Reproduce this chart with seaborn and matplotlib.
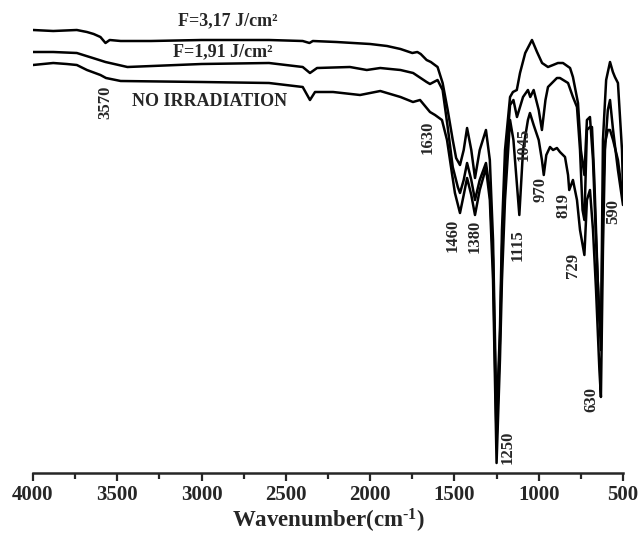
import matplotlib
matplotlib.use("Agg")
import matplotlib.pyplot as plt
import seaborn as sns
import pandas as pd

# ---- data (wavenumber, transmittance a.u.) ----
wn_f317 = [4000, 3880, 3740, 3680, 3640, 3600, 3570, 3545, 3480, 3300, 3000, 2600, 2400, 2360, 2340,
           2200, 2000, 1900, 1820, 1750, 1720, 1700, 1665, 1640, 1600, 1570, 1540, 1510, 1490, 1467,
           1445, 1425, 1400, 1378, 1350, 1313, 1290, 1271, 1250, 1230, 1218, 1200, 1170, 1153, 1130,
           1111, 1080, 1040, 1010, 980, 945, 915, 886, 856, 814, 797, 767, 750, 729, 714, 696, 678,
           660, 640, 630, 619, 600, 577, 560, 548, 530, 506, 500]
t_f317 = [94.0, 93.8, 94.0, 93.6, 93.2, 92.6, 91.4, 92.0, 91.8, 91.8, 92.0, 92.0, 91.8, 91.4, 91.8,
          91.6, 91.2, 90.8, 90.2, 89.4, 89.6, 89.2, 88.0, 87.6, 86.6, 83.4, 78.0, 72.0, 68.4, 67.0,
          70.0, 74.4, 70.0, 64.4, 70.0, 74.0, 68.0, 52.0, 16.0, 34.0, 54.0, 70.0, 80.6, 81.6, 82.0,
          85.4, 89.4, 92.0, 89.6, 87.4, 86.6, 87.0, 87.4, 87.4, 86.4, 84.6, 79.4, 70.0, 65.0, 76.0,
          76.6, 68.0, 52.0, 36.0, 34.0, 72.0, 84.0, 87.6, 85.6, 84.6, 83.4, 70.0, 62.0]

wn_f191 = [4000, 3880, 3740, 3645, 3570, 3440, 3000, 2600, 2400, 2357, 2315, 2120, 2020, 1940, 1820,
           1745, 1665, 1645, 1600, 1570, 1540, 1510, 1480, 1467, 1445, 1425, 1400, 1378, 1350, 1313,
           1290, 1271, 1250, 1230, 1218, 1200, 1170, 1150, 1129, 1093, 1064, 1050, 1030, 1000, 981,
           960, 945, 892, 874, 826, 797, 773, 755, 740, 729, 714, 696, 684, 670, 650, 631, 619, 607,
           590, 577, 559, 530, 500]
t_f191 = [89.6, 89.6, 89.4, 88.4, 87.6, 86.6, 87.2, 87.4, 86.6, 85.4, 86.4, 86.6, 86.0, 86.4, 86.0,
          85.4, 83.6, 83.2, 84.0, 82.0, 74.6, 66.6, 62.6, 61.4, 64.0, 67.4, 64.0, 60.0, 64.0, 67.4,
          62.0, 48.0, 12.0, 32.0, 50.0, 66.0, 79.0, 80.0, 76.6, 80.6, 82.0, 80.6, 82.0, 78.0, 74.0,
          80.0, 82.6, 84.4, 84.4, 83.4, 80.6, 78.6, 70.0, 58.0, 56.0, 74.0, 74.6, 74.6, 64.0, 44.0,
          30.0, 60.0, 71.4, 74.0, 74.0, 72.0, 68.0, 60.0]

wn_noirr = [4000, 3880, 3800, 3740, 3680, 3600, 3567, 3480, 3000, 2600, 2400, 2357, 2327, 2220, 2060,
            1940, 1820, 1746, 1704, 1645, 1615, 1574, 1544, 1515, 1497, 1467, 1445, 1425, 1400, 1378,
            1350, 1313, 1290, 1271, 1250, 1230, 1218, 1200, 1170, 1150, 1115, 1093, 1064, 1052, 1030,
            1000, 981, 970, 955, 933, 915, 892, 874, 844, 826, 819, 797, 773, 755, 729, 714, 696, 678,
            660, 640, 631, 619, 607, 590, 577, 559, 530, 500]
t_noirr = [87.0, 87.4, 87.2, 87.0, 86.0, 85.0, 84.4, 83.8, 83.6, 83.4, 82.6, 80.0, 81.6, 81.6, 81.0,
           81.8, 80.6, 79.6, 80.0, 77.6, 77.0, 76.0, 72.0, 65.4, 61.4, 57.4, 61.0, 64.4, 61.0, 57.0,
           62.0, 66.4, 60.0, 44.0, 7.4, 28.0, 44.0, 60.0, 76.0, 72.0, 57.0, 70.0, 76.0, 77.4, 75.0,
           72.0, 68.0, 65.0, 69.0, 70.6, 70.0, 70.4, 69.6, 68.6, 65.0, 62.0, 64.0, 60.0, 54.0, 49.0,
           60.0, 62.0, 54.0, 42.0, 26.0, 20.6, 50.0, 70.0, 78.0, 80.0, 74.0, 66.0, 59.0]

series_names = ["F=3,17 J/cm²", "F=1,91 J/cm²", "NO IRRADIATION"]

peak_labels = ["3570", "1630", "1460", "1380", "1250", "1115", "1045", "970", "819", "729", "630", "590"]
peak_label_x = [3573, 1657, 1509, 1378, 1182, 1123, 1087, 987, 850, 797, 690, 559]
peak_label_y = [79.6, 72.6, 53.0, 52.8, 10.6, 51.0, 71.2, 62.2, 59.0, 47.0, 20.0, 57.8]

name_label_x = [2843, 2873, 2950]
name_label_y = [95.8, 89.7, 79.7]

x_ticks = [4000, 3500, 3000, 2500, 2000, 1500, 1000, 500]
x_minor = [3750, 3250, 2750, 2250, 1750, 1250, 750]

# ---- build table ----
frames = []
for name, wn, t in zip(series_names, [wn_f317, wn_f191, wn_noirr], [t_f317, t_f191, t_noirr]):
    frames.append(pd.DataFrame({"wn": wn, "T": t, "sample": name}))
df = pd.concat(frames, ignore_index=True)

sns.set_style("ticks")
plt.rcParams["font.family"] = ["Liberation Serif", "DejaVu Serif"]
plt.rcParams["font.weight"] = "bold"
plt.rcParams["mathtext.fontset"] = "custom"
plt.rcParams["mathtext.rm"] = "Liberation Serif:bold"
plt.rcParams["mathtext.bf"] = "Liberation Serif:bold"
plt.rcParams["mathtext.it"] = "Liberation Serif:bold"

fig = plt.figure(figsize=(6.4, 5.4), dpi=100)
ax = fig.add_axes([33 / 640, (540 - 473) / 540, 590 / 640, 473 / 540])

sns.lineplot(data=df, x="wn", y="T", units="sample", estimator=None, color="black",
             linewidth=1.8, ax=ax, legend=False)

ax.set_xlim(4000, 500)
ax.set_ylim(5.4, 100)
for s in ["left", "right", "top"]:
    ax.spines[s].set_visible(False)
ax.spines["bottom"].set_linewidth(1.8)
ax.set_yticks([])
ax.set_ylabel("")
ax.set_xticks(x_ticks)
ax.set_xticklabels([str(v) for v in x_ticks], fontsize=15, fontweight="bold")
ax.set_xticks(x_minor, minor=True)
ax.tick_params(axis="x", which="major", direction="out", length=6, width=1.6, pad=3)
ax.tick_params(axis="x", which="minor", direction="out", length=4, width=1.6)
ax.set_xlabel(r"Wavenumber(cm$^{\text{-1}}$)", fontsize=16.5, fontweight="bold", labelpad=1)

for lab, x, y in zip(peak_labels, peak_label_x, peak_label_y):
    ax.text(x, y, lab, rotation=90, ha="center", va="center", fontsize=12, fontweight="bold")

for name, x, y in zip(series_names, name_label_x, name_label_y):
    ax.text(x, y, name, ha="center", va="center", fontsize=13, fontweight="bold")

fig.savefig("out.png", dpi=100)
